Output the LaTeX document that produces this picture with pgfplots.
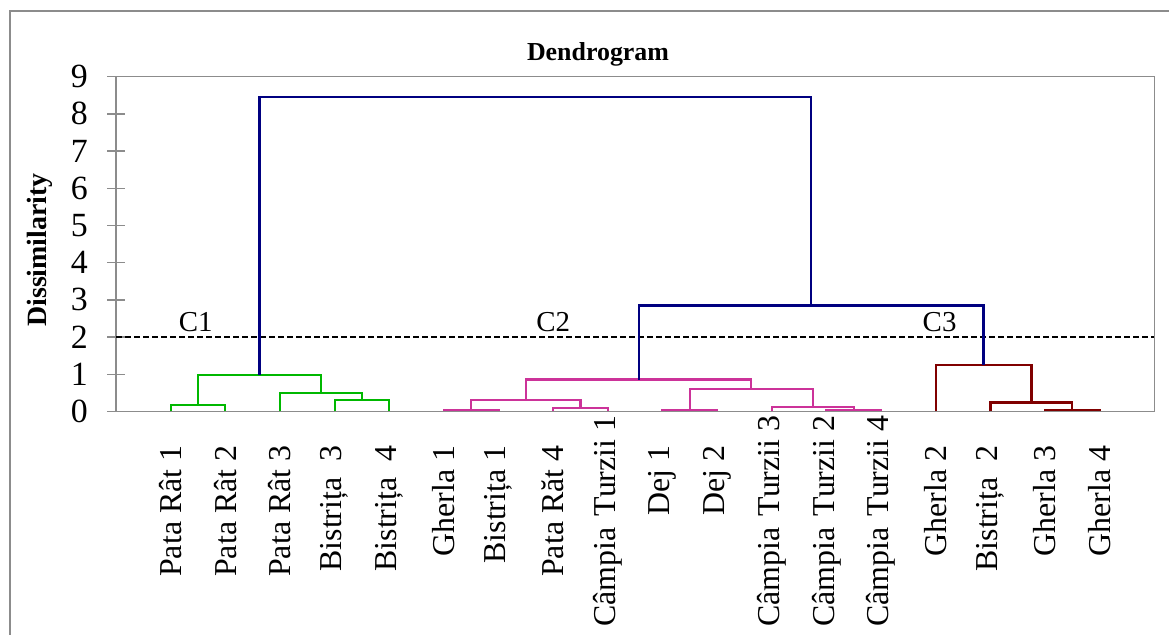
\documentclass[border=0pt]{standalone}
\usepackage{fontspec}
\setmainfont{Liberation Serif}
\usepackage{pgfplots}
\pgfplotsset{compat=1.18}

\definecolor{framegray}{RGB}{140,140,140}
\definecolor{cOne}{RGB}{0,184,0}
\definecolor{cTwo}{RGB}{204,51,153}
\definecolor{cThree}{RGB}{128,0,0}
\definecolor{cTop}{RGB}{0,0,128}

\pgfplotsset{
  link/.style={mark=none, line width=2.2bp, line join=miter},
  cl1/.style={link, draw=cOne},
  cl2/.style={link, draw=cTwo},
  cl3/.style={link, draw=cThree},
  cl0/.style={link, draw=cTop},
}
% long labels that run up past the usual label start
\newcommand{\ct}[1]{Câmpia\hspace{0.35em}Turzii #1\hspace*{-30bp}}

\begin{document}
\begin{tikzpicture}[x=1bp,y=1bp]
\useasboundingbox (0,0) rectangle (1169,635);
% outer chart frame
\draw[framegray, line width=2bp] (9.5,-2) -- (9.5,624) -- (1172,624);

\begin{axis}[
  at={(116bp,223.5bp)}, anchor=south west,
  x=54.65bp, y=37.2bp,
  xmin=-1, xmax=18, ymin=0, ymax=9,
  clip=false,
  axis line style={draw=framegray, line width=1.5bp},
  ytick={0,1,...,9},
  ytick pos=left,
  tick align=center,
  major tick length=18bp,
  ytick style={draw=framegray, line width=1.5bp},
  xtick={0,1,...,17},
  xtick style={draw=none},
  /pgf/number format/assume math mode=true,
  yticklabel style={font=\fontsize{34}{34}\selectfont, inner sep=0pt, anchor=east},
  yticklabel shift=19bp,
  xticklabel style={font=\fontsize{32}{32}\selectfont, inner sep=0pt, rotate=90, anchor=east},
  xticklabel shift=25bp,
  xticklabels={
    Pata Rât 1, Pata Rât 2, Pata Rât 3, Bistrița~~3, Bistrița~~4,
    Gherla 1, Bistrița 1, Pata Răt 4, \ct{1},
    Dej 1, Dej 2, \ct{3}, \ct{2},
    \ct{4}, Gherla 2, Bistrița~~2, Gherla 3, Gherla 4},
]
% truncation level
\addplot[black, line width=2bp, dash pattern=on 6bp off 3bp] coordinates {(-1,2) (18,2)};

% cluster C1
\addplot[cl1] coordinates {(0,0) (0,0.17) (1,0.17) (1,0)};
\addplot[cl1] coordinates {(3,0) (3,0.30) (4,0.30) (4,0)};
\addplot[cl1] coordinates {(2,0) (2,0.49) (3.5,0.49) (3.5,0.30)};
\addplot[cl1] coordinates {(0.5,0.17) (0.5,0.99) (2.75,0.99) (2.75,0.49)};

% cluster C2
\addplot[cl2] coordinates {(5,0) (5,0.05) (6,0.05) (6,0)};
\addplot[cl2] coordinates {(7,0) (7,0.10) (8,0.10) (8,0)};
\addplot[cl2] coordinates {(5.5,0.05) (5.5,0.30) (7.5,0.30) (7.5,0.10)};
\addplot[cl2] coordinates {(9,0) (9,0.05) (10,0.05) (10,0)};
\addplot[cl2] coordinates {(12,0) (12,0.05) (13,0.05) (13,0)};
\addplot[cl2] coordinates {(11,0) (11,0.13) (12.5,0.13) (12.5,0.05)};
\addplot[cl2] coordinates {(9.5,0.05) (9.5,0.61) (11.75,0.61) (11.75,0.13)};
\addplot[cl2] coordinates {(6.5,0.30) (6.5,0.86) (10.625,0.86) (10.625,0.61)};

% cluster C3
\addplot[cl3] coordinates {(16,0) (16,0.05) (17,0.05) (17,0)};
\addplot[cl3] coordinates {(15,0) (15,0.24) (16.5,0.24) (16.5,0.05)};
\addplot[cl3] coordinates {(14,0) (14,1.24) (15.75,1.24) (15.75,0.24)};

% upper links
\addplot[cl0] coordinates {(8.5625,0.86) (8.5625,2.85) (14.875,2.85) (14.875,1.24)};
\addplot[cl0] coordinates {(1.625,0.99) (1.625,8.45) (11.71875,8.45) (11.71875,2.85)};

% cluster names
\node[anchor=base, font=\fontsize{29}{29}\selectfont] at (axis cs:0.46,2.15) {C1};
\node[anchor=base, font=\fontsize{29}{29}\selectfont] at (axis cs:7.0,2.15) {C2};
\node[anchor=base, font=\fontsize{29}{29}\selectfont] at (axis cs:14.07,2.15) {C3};
\end{axis}

\node[anchor=base, font=\fontsize{26}{26}\selectfont\bfseries] at (598,574) {Dendrogram};
\node[rotate=90, font=\fontsize{28}{28}\selectfont\bfseries] at (40,385) {Dissimilarity};
\end{tikzpicture}
\end{document}
